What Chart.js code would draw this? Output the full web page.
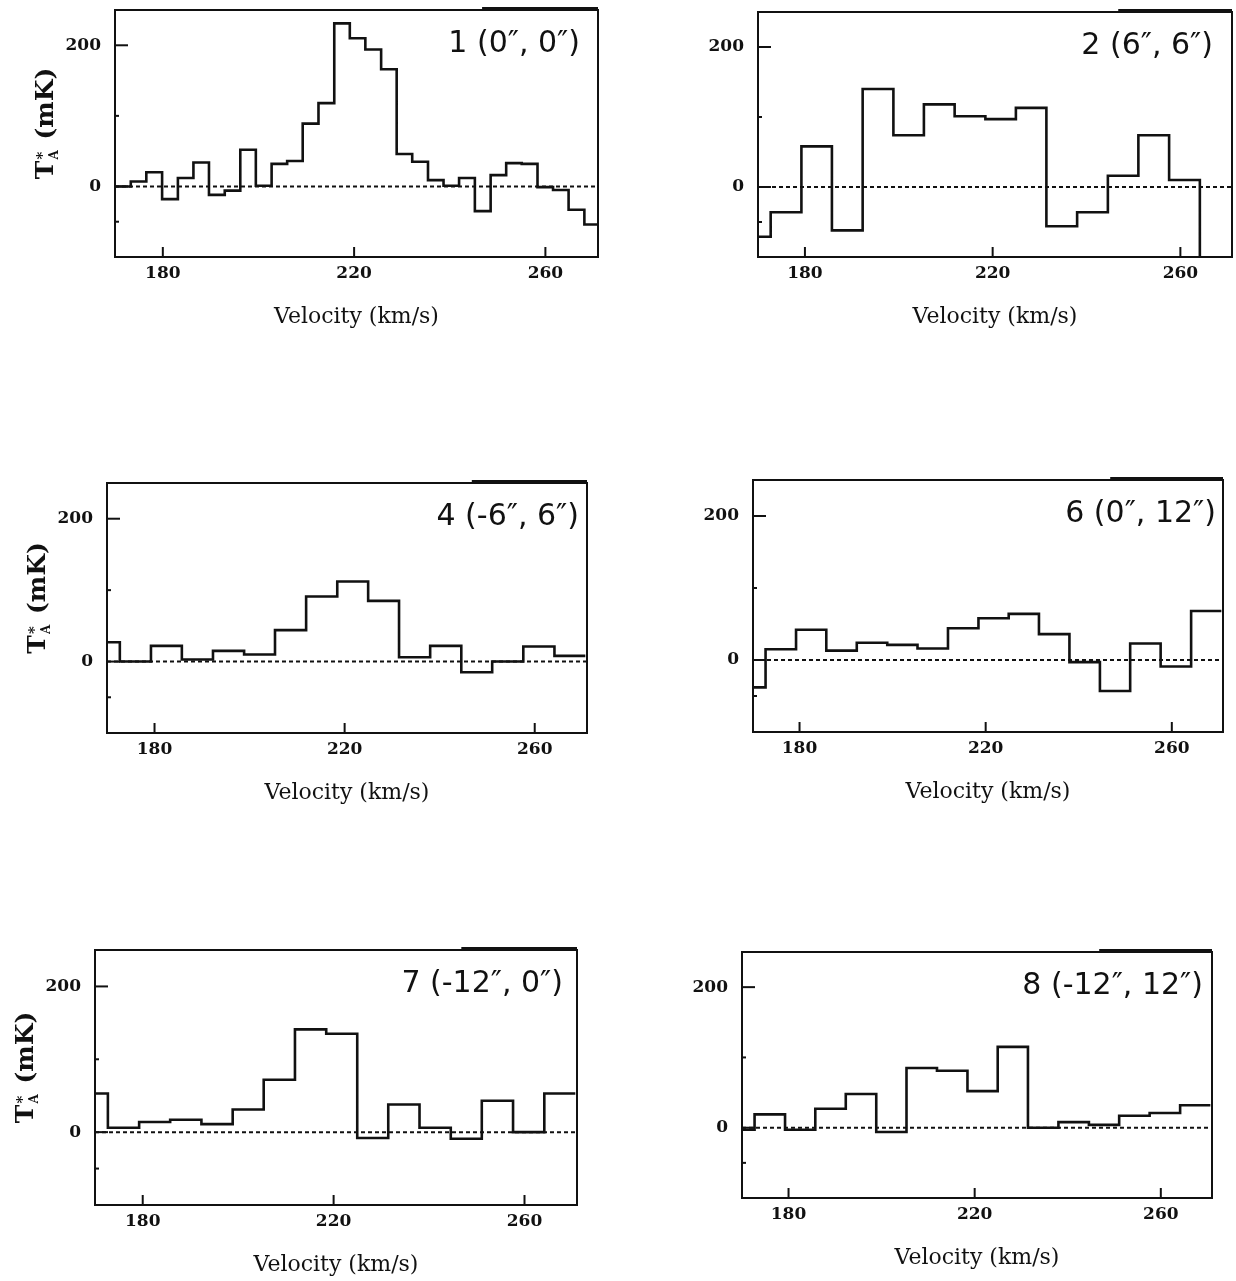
<!DOCTYPE html>
<html>
<head>
<meta charset="utf-8">
<script src="https://cdn.jsdelivr.net/npm/chart.js@4.4.1/dist/chart.umd.min.js"></script>
<style>
  html, body { margin: 0; padding: 0; background: #fff; overflow: hidden; }
  body { width: 1236px; height: 1281px; position: relative; }
  .panel { position: absolute; }
  .panel canvas { display: block; }
</style>
</head>
<body>
<script>
// Channel centres (km/s): full resolution for the central position, 2-channel bins elsewhere
const velFine = [171.7, 174.9, 178.2, 181.5, 184.8, 188.0, 191.3, 194.6, 197.8, 201.1,
                 204.4, 207.6, 210.9, 214.2, 217.5, 220.7, 224.0, 227.3, 230.5, 233.8,
                 237.1, 240.3, 243.6, 246.9, 250.2, 253.4, 256.7, 260.0, 263.2, 266.5, 269.8];
const velBinned = [169.4, 176.0, 182.5, 189.0, 195.6, 202.1, 208.6, 215.2,
                   221.7, 228.2, 234.7, 241.3, 247.8, 254.3, 260.9, 267.4];

// Antenna temperature T_A* (mK) per channel, one list per position
const tPos1 = [0, 7, 20, -18, 12, 34, -12, -6, 52, 1, 32, 36, 89, 118, 231, 210,
               194, 166, 46, 35, 9, 1, 12, -35, 16, 33, 32, -1, -5, -33, -54];
// last channel of position 2 runs off the bottom of the axis
const tPos2 = [-71, -36, 58, -62, 140, 74, 118, 101, 97, 113, -56, -36, 16, 74, 10, -150];
const tPos4 = [27, 0, 22, 3, 15, 10, 44, 91, 112, 85, 6, 22, -15, 0, 21, 8];
const tPos6 = [-38, 15, 42, 13, 24, 21, 16, 44, 58, 64, 36, -3, -43, 23, -9, 68];
const tPos7 = [53, 6, 14, 17, 11, 31, 72, 141, 135, -8, 38, 6, -9, 43, 0, 53];
const tPos8 = [-3, 19, -3, 27, 48, -6, 85, 81, 52, 115, 0, 8, 4, 17, 21, 32];

const posLabels = ['1 (0″, 0″)', '2 (6″, 6″)', '4 (-6″, 6″)', '6 (0″, 12″)', '7 (-12″, 0″)', '8 (-12″, 12″)'];
const velTicks = [180, 220, 260];
const tempTicks = [0, 200];
const tempMinorTicks = [100, -50];
const velRange = [170, 271];
const tempRange = [-100, 250];

const spectra = [
  { vel: velFine,   t: tPos1 },
  { vel: velBinned, t: tPos2 },
  { vel: velBinned, t: tPos4 },
  { vel: velBinned, t: tPos6 },
  { vel: velBinned, t: tPos7 },
  { vel: velBinned, t: tPos8 }
];

// Page placement of each plot frame (px) and label inset
const frames = [
  { left: 115, top: 10,  right: 598,  bottom: 257,  inset: 18, yTitle: true },
  { left: 758, top: 12,  right: 1232, bottom: 257,  inset: 19, yTitle: false },
  { left: 107, top: 483, right: 587,  bottom: 733,  inset: 8,  yTitle: true },
  { left: 753, top: 480, right: 1223, bottom: 732,  inset: 7,  yTitle: false },
  { left: 95,  top: 950, right: 577,  bottom: 1205, inset: 14, yTitle: true },
  { left: 742, top: 952, right: 1212, bottom: 1198, inset: 9,  yTitle: false }
];

const AXIS_W = 95, AXIS_H = 80, PAD_T = 8, PAD_R = 4;
const INK = '#111';

// Histogram outline: each channel spans half-way to its neighbours
function stepPoints(vel, t) {
  const pts = [];
  for (let i = 0; i < vel.length; i++) {
    const lo = i === 0 ? vel[0] - (vel[1] - vel[0]) / 2 : (vel[i - 1] + vel[i]) / 2;
    pts.push({ x: lo, y: t[i] });
  }
  const n = vel.length - 1;
  pts.push({ x: vel[n] + (vel[n] - vel[n - 1]) / 2, y: t[n] });
  return pts;
}

function seg(ctx, x1, y1, x2, y2) {
  ctx.beginPath(); ctx.moveTo(x1, y1); ctx.lineTo(x2, y2); ctx.stroke();
}

const decor = {
  id: 'decor',
  beforeDatasetsDraw(chart) {
    const { ctx, chartArea: a, scales: { y } } = chart;
    const y0 = y.getPixelForValue(0);
    ctx.save();
    ctx.strokeStyle = INK; ctx.lineWidth = 2; ctx.setLineDash([4, 3]);
    seg(ctx, a.left, y0, a.right, y0);
    ctx.restore();
  },
  afterDraw(chart, args, opts) {
    const { ctx, chartArea: a, scales: { x, y } } = chart;
    ctx.save();
    ctx.strokeStyle = INK; ctx.fillStyle = INK;
    // frame
    ctx.lineWidth = 2;
    ctx.strokeRect(a.left, a.top, a.right - a.left, a.bottom - a.top);
    ctx.lineWidth = 4;
    seg(ctx, a.left + 0.76 * (a.right - a.left), a.top - 1, a.right, a.top - 1);
    // inward tick marks
    ctx.lineWidth = 2;
    tempTicks.forEach(v => { const py = y.getPixelForValue(v); seg(ctx, a.left, py, a.left + 13, py); });
    tempMinorTicks.forEach(v => { const py = y.getPixelForValue(v); seg(ctx, a.left, py, a.left + 4, py); });
    velTicks.forEach(v => { const px = x.getPixelForValue(v); seg(ctx, px, a.bottom, px, a.bottom - 10); });
    // position label
    ctx.font = '30px "DejaVu Sans"';
    ctx.textAlign = 'right'; ctx.textBaseline = 'alphabetic';
    ctx.fillText(opts.label, a.right - opts.inset, a.top + 42);
    // vertical axis title T_A* (mK)
    if (opts.yTitle) {
      const big = 'bold 25px "DejaVu Serif"', sub = 'bold 12px "DejaVu Serif"', sup = 'bold 15px "DejaVu Serif"';
      ctx.font = big;
      const wT = ctx.measureText('T').width, wRest = ctx.measureText(' (mK)').width;
      ctx.font = sub; const wA = ctx.measureText('A').width;
      ctx.font = sup; const wS = ctx.measureText('*').width;
      const wMid = Math.max(wA, wS) + 3;
      ctx.translate(a.left - 69, (a.top + a.bottom) / 2 - 10);
      ctx.rotate(-Math.PI / 2);
      ctx.textAlign = 'left'; ctx.textBaseline = 'middle';
      let xx = -(wT + wMid + wRest) / 2;
      ctx.font = big; ctx.fillText('T', xx, 0); xx += wT;
      ctx.font = sub; ctx.fillText('A', xx + 1, 9);
      ctx.font = sup; ctx.fillText('*', xx + 1, -3);
      xx += wMid;
      ctx.font = big; ctx.fillText(' (mK)', xx, 0);
    }
    ctx.restore();
  }
};

spectra.forEach((sp, i) => {
  const f = frames[i];
  const w = (f.right - f.left) + AXIS_W + PAD_R;
  const h = (f.bottom - f.top) + PAD_T + AXIS_H;
  const div = document.createElement('div');
  div.className = 'panel';
  div.style.left = (f.left - AXIS_W) + 'px';
  div.style.top = (f.top - PAD_T) + 'px';
  div.style.width = w + 'px';
  div.style.height = h + 'px';
  const cv = document.createElement('canvas');
  cv.width = w; cv.height = h;
  cv.style.width = w + 'px'; cv.style.height = h + 'px';
  div.appendChild(cv);
  document.body.appendChild(div);

  new Chart(cv, {
    type: 'line',
    data: {
      datasets: [{
        data: stepPoints(sp.vel, sp.t),
        stepped: true,
        borderColor: INK,
        borderWidth: 2.6,
        borderJoinStyle: 'miter',
        pointRadius: 0,
        fill: false,
        tension: 0
      }]
    },
    options: {
      responsive: false,
      devicePixelRatio: 1,
      animation: false,
      events: [],
      layout: { padding: { top: PAD_T, right: PAD_R, left: 0, bottom: 0 } },
      plugins: {
        legend: { display: false },
        tooltip: { enabled: false },
        decor: { label: posLabels[i], inset: f.inset, yTitle: f.yTitle }
      },
      scales: {
        x: {
          type: 'linear',
          min: velRange[0], max: velRange[1],
          afterBuildTicks: s => { s.ticks = velTicks.map(v => ({ value: v })); },
          afterFit: s => { s.height = AXIS_H; s.paddingLeft = 0; s.paddingRight = 0; },
          grid: { display: false, drawTicks: false },
          border: { display: false },
          ticks: {
            color: INK, padding: 6, maxRotation: 0,
            font: { family: 'DejaVu Serif', size: 17, weight: 'bold' }
          },
          title: {
            display: true, text: 'Velocity (km/s)', color: INK,
            font: { family: 'DejaVu Serif', size: 22 },
            padding: { top: 0, bottom: 7 }
          }
        },
        y: {
          type: 'linear',
          min: tempRange[0], max: tempRange[1],
          afterBuildTicks: s => { s.ticks = tempTicks.map(v => ({ value: v })); },
          afterFit: s => { s.width = AXIS_W; s.paddingTop = 0; s.paddingBottom = 0; },
          grid: { display: false, drawTicks: false },
          border: { display: false },
          ticks: {
            color: INK, padding: 14,
            font: { family: 'DejaVu Serif', size: 17, weight: 'bold' }
          }
        }
      }
    },
    plugins: [decor]
  });
});
</script>
</body>
</html>
